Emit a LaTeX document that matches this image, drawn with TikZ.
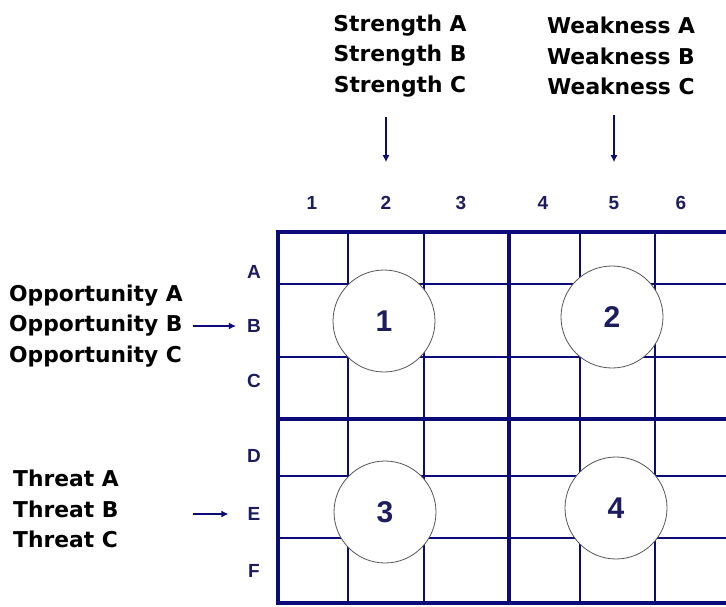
\documentclass[tikz,border=0pt]{standalone}
\usepackage{fontspec}
\setmainfont{DejaVu Sans}
\newfontfamily\axisfont{Liberation Sans}
\usetikzlibrary{arrows.meta,positioning}
\definecolor{navy}{HTML}{0B0B7A}
\definecolor{inkblue}{HTML}{1C1C5E}
\definecolor{rimgray}{HTML}{555555}

\begin{document}
\begin{tikzpicture}[x=1pt,y=-1pt,
    factor/.style={align=center, font=\fontsize{21.8}{30.5}\selectfont\bfseries, text=black, inner sep=2pt},
    sidefactor/.style={factor, align=left},
    axis/.style={font=\axisfont\fontsize{19}{19}\selectfont\bfseries, text=inkblue, inner sep=2pt},
    spot/.style={circle, draw=rimgray, line width=0.8pt, fill=white, minimum size=102pt, inner sep=0pt, font=\axisfont\fontsize{30}{30}\selectfont\bfseries, text=inkblue},
    thin grid/.style={draw=navy, line width=1.3pt},
    thick grid/.style={draw=navy, line width=4pt},
    arrow/.style={-{Latex[length=7pt,width=7pt]}, color=navy, line width=1.4pt}
]
\useasboundingbox (0,0) rectangle (726,606);

% thin grid lines
\draw[thin grid] (348,232) -- (348,603);
\draw[thin grid] (424,232) -- (424,603);
\draw[thin grid] (580,232) -- (580,603);
\draw[thin grid] (655,232) -- (655,603);
\draw[thin grid] (278,284) -- (726,284);
\draw[thin grid] (278,357) -- (726,357);
\draw[thin grid] (278,476) -- (726,476);
\draw[thin grid] (278,538) -- (726,538);

% quadrant borders
\draw[thick grid] (726,232) -- (278,232) -- (278,603) -- (726,603);
\draw[thick grid] (509,232) -- (509,603);
\draw[thick grid] (278,419) -- (726,419);

% quadrant markers
\node[spot] (q1) at (384,321) {1};
\node[spot] (q2) at (612,317) {2};
\node[spot] (q3) at (385,512) {3};
\node[spot] (q4) at (616,508) {4};

% column labels
\node[axis] (col1) at (312,203) {1};
\node[axis] (col2) at (386,203) {2};
\node[axis] (col3) at (461,203) {3};
\node[axis] (col4) at (543,203) {4};
\node[axis] (col5) at (614,203) {5};
\node[axis] (col6) at (681,203) {6};

% row labels
\node[axis] (rowA) at (254,272) {A};
\node[axis] (rowB) at (254,326) {B};
\node[axis] (rowC) at (254,381) {C};
\node[axis] (rowD) at (254,456) {D};
\node[axis] (rowE) at (254,514) {E};
\node[axis] (rowF) at (254,571) {F};

% factors
\node[factor] (str) at (400,56) {Strength A\\Strength B\\Strength C};
\node[factor] (weak) at (621,56) {Weakness A\\Weakness B\\Weakness C};
\node[sidefactor, anchor=west] (opp) at (7,326) {Opportunity A\\Opportunity B\\Opportunity C};
\node[sidefactor, anchor=west] (thr) at (11,509) {Threat A\\Threat B\\Threat C};

\draw[arrow, shorten <=18pt] (str.south -| col2) -- ([yshift=32pt]col2.north);
\draw[arrow, shorten <=18pt] (weak.south -| col5) -- ([yshift=32pt]col5.north);
\draw[arrow, shorten <=8pt, shorten >=9pt] (opp.east |- rowB.west) -- (rowB.west);
\draw[arrow, shorten >=17pt] ([xshift=-52pt]rowE.west) -- (rowE.west);

\end{tikzpicture}
\end{document}
